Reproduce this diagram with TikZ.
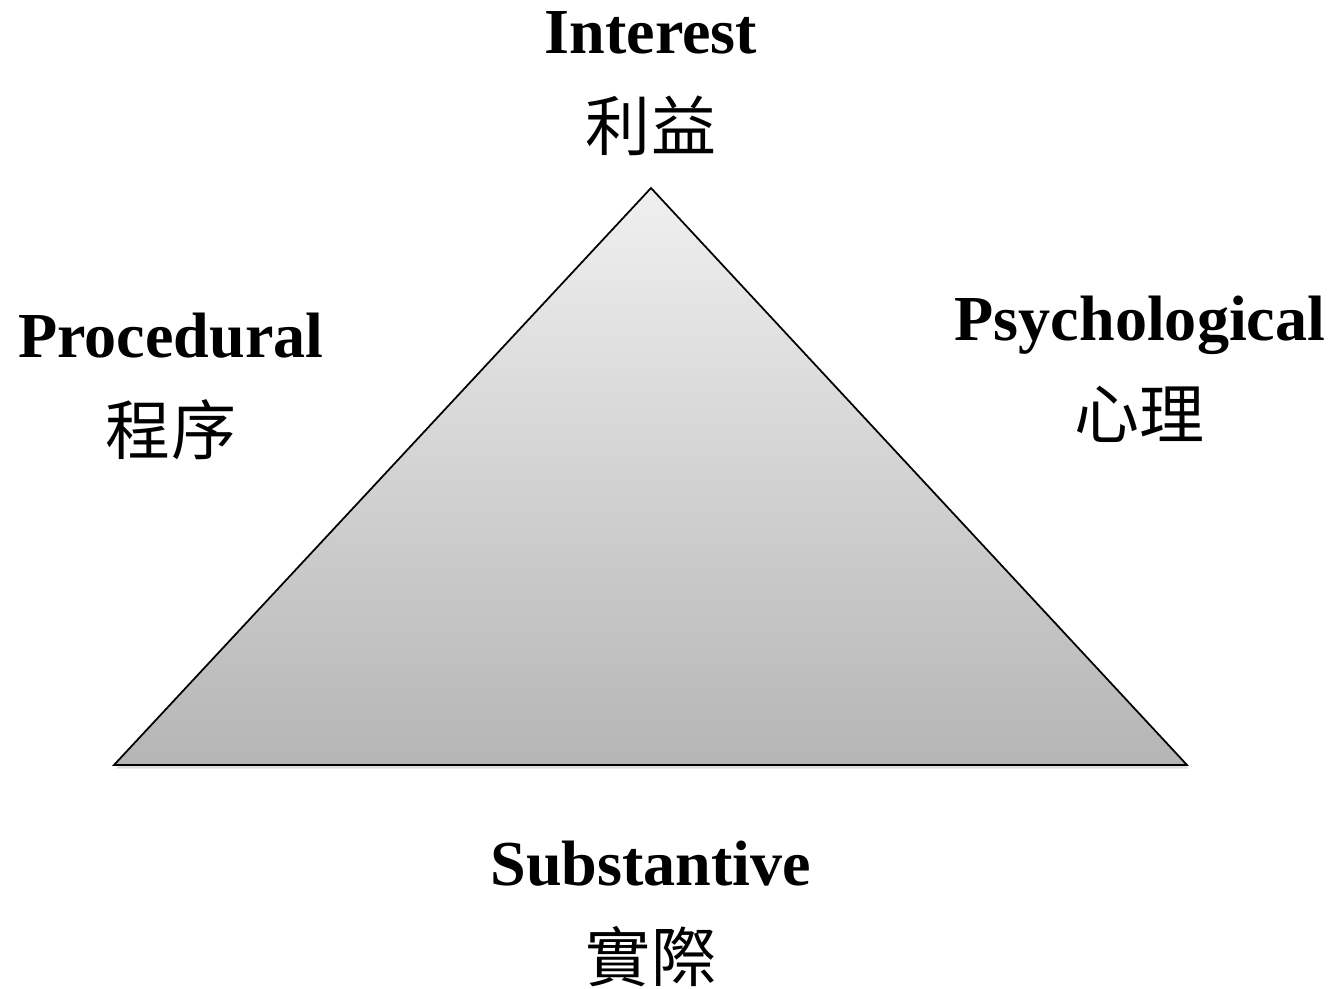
\documentclass[tikz,border=0pt]{standalone}
\usepackage{fontspec}
\setmainfont{Liberation Serif}
\newfontfamily\cjk{Noto Sans CJK TC}
\usetikzlibrary{shadows}
\begin{document}
\begin{tikzpicture}[x=0.02cm, y=-0.02cm, font=\fontsize{36}{40}\selectfont,
    en/.style={font=\fontsize{36.5}{40}\selectfont\bfseries, anchor=base},
    zh/.style={font=\fontsize{37}{40}\selectfont\cjk, inner sep=0pt}]
        \useasboundingbox (0,0) rectangle (1333,988);
        \coordinate (top) at (651,188);
        \coordinate (left) at (114,765);
        \coordinate (right) at (1187,765);
        \draw[line width=1pt, top color=black!6, bottom color=black!29,
            drop shadow={opacity=0.25, shadow xshift=1pt, shadow yshift=-2pt}]
            (top) -- (right) -- (left) -- cycle;
        \node[en] (interest) at (651,53) {Interest};
        \node[zh] (interestzh) at (651,126) {利益};
        \node[en] (proc) at (171,357) {Procedural};
        \node[zh] (proczh) at (171,430) {程序};
        \node[en] (psych) at (1140,340) {Psychological};
        \node[zh] (psychzh) at (1139,414) {心理};
        \node[en] (subst) at (651,885) {Substantive};
        \node[zh] (substzh) at (651,957) {實際};
    \end{tikzpicture}
\end{document}
